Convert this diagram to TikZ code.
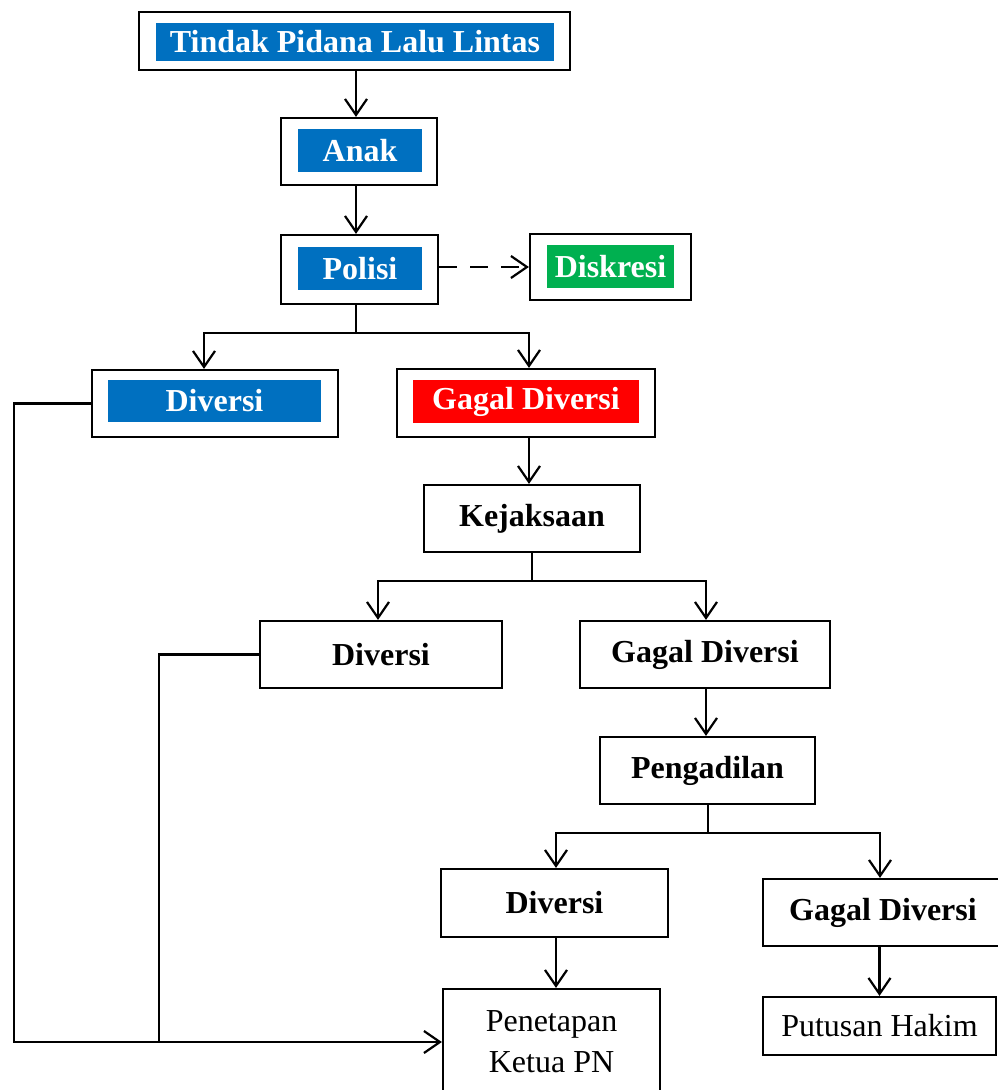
\documentclass[tikz,border=0pt]{standalone}
\usepackage{fontspec}
\setmainfont{Liberation Serif}
\usetikzlibrary{arrows.meta}
\definecolor{cblue}{HTML}{0070C0}
\definecolor{cgreen}{HTML}{00B050}
\definecolor{cred}{HTML}{FF0000}
\begin{document}
\begin{tikzpicture}[x=1pt,y=-1pt,
  box/.style={draw=black,line width=2.2pt,inner sep=0pt,fill=white},
  lbl/.style={inner sep=0pt,text=white,font=\fontsize{32}{36}\selectfont\bfseries},
  btxt/.style={inner sep=0pt,font=\fontsize{32}{36}\selectfont\bfseries},
  ntxt/.style={inner sep=0pt,align=center,font=\fontsize{32}{41}\selectfont},
  arr/.style={line width=2.2pt,-{Straight Barb[length=16pt,width=22pt,line width=2.2pt]}},
  ln/.style={line width=2.2pt}]
\useasboundingbox (0,0) rectangle (997,1090);
% top chain
\node[box,minimum width=431pt,minimum height=58pt] (tpll) at (354.5,41) {};
\node[lbl,fill=cblue,minimum width=398pt,minimum height=38pt] (tpllT) at (355,42) {Tindak Pidana Lalu Lintas};
\node[box,minimum width=156pt,minimum height=67pt] (anak) at (359,151.5) {};
\node[lbl,fill=cblue,minimum width=124pt,minimum height=43pt] (anakT) at (360,150.5) {Anak};
\node[box,minimum width=157pt,minimum height=69pt] (polisi) at (359.5,269.5) {};
\node[lbl,fill=cblue,minimum width=124pt,minimum height=43pt] (polisiT) at (360,268.5) {Polisi};
\node[box,minimum width=161pt,minimum height=66pt] (disk) at (610.5,267) {};
\node[lbl,fill=cgreen,minimum width=127pt,minimum height=43pt] (diskT) at (610.5,266.5) {Diskresi};
\node[box,minimum width=246pt,minimum height=67pt] (div1) at (215,403.5) {};
\node[lbl,fill=cblue,minimum width=213pt,minimum height=42pt] (div1T) at (214.5,401) {Diversi};
\node[box,minimum width=258pt,minimum height=68pt] (gag1) at (526,403) {};
\node[lbl,fill=cred,minimum width=226pt,minimum height=43pt] (gag1T) at (526,401.5) {Gagal Diversi};
% kejaksaan level
\node[box,btxt,minimum width=216pt,minimum height=67pt] (kej) at (532,518.5) {Kejaksaan};
\node[box,btxt,minimum width=242pt,minimum height=67pt] (div2) at (381,654.5) {Diversi};
\node[box,btxt,minimum width=250pt,minimum height=67pt] (gag2) at (705,654.5) {Gagal Diversi};
% pengadilan level
\node[box,btxt,minimum width=215pt,minimum height=67pt] (peng) at (707.5,770.5) {Pengadilan};
\node[box,btxt,minimum width=227pt,minimum height=68pt] (div3) at (554.5,903) {Diversi};
\node[box,btxt,minimum width=240pt,minimum height=67pt] (gag3) at (883,912.5) {Gagal Diversi};
% outcomes
\node[box,ntxt,minimum width=217pt,minimum height=106pt] (pen) at (551.5,1042) {Penetapan\\Ketua PN};
\node[box,ntxt,minimum width=233pt,minimum height=58pt] (put) at (879.5,1026) {Putusan Hakim};
% connectors
\draw[arr] (tpll.south -| 356,0) -- (anak.north -| 356,0);
\draw[arr] (anak.south -| 356,0) -- (polisi.north -| 356,0);
\draw[arr,dash pattern=on 18pt off 13pt] (polisi.east |- disk.west) -- (disk.west);
\coordinate (pb) at (356,333);
\draw[ln] (polisi.south -| pb) -- (pb);
\draw[arr] (pb) -| ([xshift=-11pt]div1.north);
\draw[arr] (pb) -| ([xshift=3pt]gag1.north);
\draw[arr] ([xshift=3pt]gag1.south) -- ([xshift=3pt]gag1.south |- kej.north);
\coordinate (kb) at (532,581);
\draw[ln] (kej.south) -- (kb);
\draw[arr] (kb) -| ([xshift=-3pt]div2.north);
\draw[arr] (kb) -| ([xshift=1pt]gag2.north);
\draw[arr] ([xshift=1pt]gag2.south) -- ([xshift=1pt]gag2.south |- peng.north);
\coordinate (pgb) at (708,833);
\draw[ln] (peng.south -| pgb) -- (pgb);
\draw[arr] (pgb) -| ([xshift=1.5pt]div3.north);
\draw[arr] (pgb) -| ([xshift=-3pt]gag3.north);
\draw[arr] ([xshift=1.5pt]div3.south) -- ([xshift=1.5pt]div3.south |- pen.north);
\draw[arr] (put.north |- gag3.south) -- (put.north);
% diversi loops
\coordinate (lc) at (14,1042);
\draw[arr] (div1.west) -| (lc) -- (pen.west);
\draw[ln] (div2.west) -| (159,1042);
\end{tikzpicture}
\end{document}
